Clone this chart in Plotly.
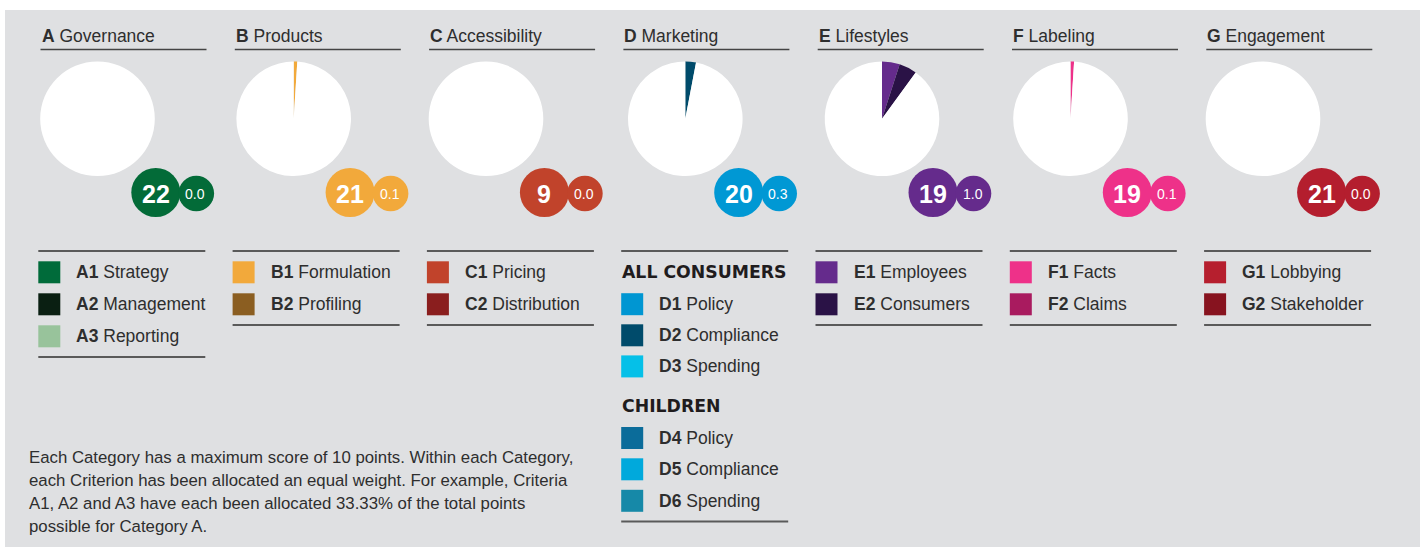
import plotly.graph_objects as go

# ---- data -------------------------------------------------------------
letters = ["A", "B", "C", "D", "E", "F", "G"]
category_names = ["Governance", "Products", "Accessibility", "Marketing",
                  "Lifestyles", "Labeling", "Engagement"]
ranks = [22, 21, 9, 20, 19, 19, 21]
max_score = 10.0

criteria_codes = [
    ["A1", "A2", "A3"],
    ["B1", "B2"],
    ["C1", "C2"],
    ["D1", "D2", "D3", "D4", "D5", "D6"],
    ["E1", "E2"],
    ["F1", "F2"],
    ["G1", "G2"],
]
criteria_names = [
    ["Strategy", "Management", "Reporting"],
    ["Formulation", "Profiling"],
    ["Pricing", "Distribution"],
    ["Policy", "Compliance", "Spending", "Policy", "Compliance", "Spending"],
    ["Employees", "Consumers"],
    ["Facts", "Claims"],
    ["Lobbying", "Stakeholder"],
]
criteria_values = [
    [0.0, 0.0, 0.0],
    [0.1, 0.0],
    [0.0, 0.0],
    [0.0, 0.3, 0.0, 0.0, 0.0, 0.0],
    [0.5, 0.5],
    [0.1, 0.0],
    [0.0, 0.0],
]
marketing_groups = ["ALL CONSUMERS", "CHILDREN"]

category_colors = ["#036b38", "#f2a93b", "#c1432b", "#0098d4",
                   "#652b8c", "#ee3189", "#b41e2e"]
criteria_colors = [
    ["#006b3a", "#0a1f12", "#98c39b"],
    ["#f2a93b", "#8b5e21"],
    ["#c1432b", "#8a1e1e"],
    ["#0096d2", "#004b6b", "#05c0e8", "#0b6c9a", "#00a9dc", "#1689a8"],
    ["#652b8c", "#2a1246"],
    ["#ee3189", "#a91b5f"],
    ["#b61f2e", "#87131f"],
]

footnote_lines = [
    "Each Category has a maximum score of 10 points. Within each Category,",
    "each Criterion has been allocated an equal weight. For example, Criteria",
    "A1, A2 and A3 have each been allocated 33.33% of the total points",
    "possible for Category A.",
]

# ---- layout constants (pixels) -------------------------------------------
W, H = 1424, 548
COL = 194.3
FONT = "Liberation Sans, Arial, sans-serif"
HEAD_FONT = "DejaVu Sans, Liberation Sans, sans-serif"
TXT = "#2e2e2e"
BG = "#dfe0e2"
PIE_CX = [97.5, 293.7, 486.0, 685.3, 882.0, 1070.5, 1263.0]

fig = go.Figure()
shapes = []
annotations = []


def ann(x, y, text, size, color=TXT, xanchor="left", yanchor="middle", family=FONT):
    annotations.append(dict(
        x=x, y=y, xref="x", yref="y", text=text, showarrow=False,
        xanchor=xanchor, yanchor=yanchor, borderpad=0,
        font=dict(family=family, size=size, color=color)))


# grey panel
shapes.append(dict(type="rect", xref="x", yref="y", x0=5, x1=1420, y0=10, y1=547,
                   fillcolor=BG, line=dict(width=0), layer="below"))

for i, letter in enumerate(letters):
    tx = 40.5 + i * COL          # title left edge
    lx = 38.3 + i * COL          # legend left edge

    # category title with underline
    ann(tx, 36, f"<b>{letter}</b> {category_names[i]}", 17.5)
    shapes.append(dict(type="line", xref="x", yref="y", x0=tx, x1=tx + 166,
                       y0=49.5, y1=49.5, line=dict(color="#444444", width=1.5)))

    # pie of criterion scores, remainder in white
    vals = criteria_values[i]
    remainder = max(max_score - sum(vals), 0)
    cx, cy, r = PIE_CX[i], 118.8, 57.3
    fig.add_trace(go.Pie(
        values=vals + [remainder],
        labels=criteria_codes[i] + ["rest"],
        marker=dict(colors=criteria_colors[i] + ["#ffffff"], line=dict(width=0)),
        sort=False, direction="clockwise", rotation=0,
        textinfo="none", hoverinfo="skip", showlegend=False,
        domain=dict(x=[(cx - r) / W, (cx + r) / W],
                    y=[1 - (cy + r) / H, 1 - (cy - r) / H]),
    ))

    # rank bubble and score bubble
    bx, by = 155.8 + i * COL, 192.5
    sx, sy = bx + 40.5, 193.5
    col = category_colors[i]
    shapes.append(dict(type="circle", xref="x", yref="y", x0=bx - 24.5, x1=bx + 24.5,
                       y0=by - 24.5, y1=by + 24.5, fillcolor=col, line=dict(width=0)))
    shapes.append(dict(type="circle", xref="x", yref="y", x0=sx - 17.8, x1=sx + 17.8,
                       y0=sy - 17.8, y1=sy + 17.8, fillcolor=col, line=dict(width=0)))
    ann(bx, by + 1, f"<b>{ranks[i]}</b>", 25, "#ffffff", xanchor="center")
    ann(sx - 1, sy + 0.5, f"{sum(vals):.1f}", 14, "#ffffff", xanchor="center")

    # legend block
    shapes.append(dict(type="line", xref="x", yref="y", x0=lx, x1=lx + 167,
                       y0=251, y1=251, line=dict(color="#5a5a5a", width=2)))
    if letter == "D":
        rows = [("h", marketing_groups[0], 272.3)] + \
               [("c", k, y) for k, y in zip(range(3), [304.2, 335.3, 366.4])] + \
               [("h", marketing_groups[1], 405.7)] + \
               [("c", k, y) for k, y in zip(range(3, 6), [438.0, 469.3, 500.8])]
    else:
        rows = [("c", k, 272.3 + 32 * k) for k in range(len(vals))]
    for kind, item, yc in rows:
        if kind == "h":
            ann(lx - 0.5, yc, f"<b>{item}</b>", 17.3, "#1f1c1d", family=HEAD_FONT)
        else:
            shapes.append(dict(type="rect", xref="x", yref="y", x0=lx, x1=lx + 22,
                               y0=yc - 11, y1=yc + 11,
                               fillcolor=criteria_colors[i][item], line=dict(width=0)))
            ann(lx + 37, yc, f"<b>{criteria_codes[i][item]}</b> {criteria_names[i][item]}",
                17.5)
    yb = rows[-1][2] + 20.8
    shapes.append(dict(type="line", xref="x", yref="y", x0=lx, x1=lx + 167,
                       y0=yb, y1=yb, line=dict(color="#5a5a5a", width=2)))

# explanatory note
for k, line in enumerate(footnote_lines):
    ann(28, 457 + 23.3 * k, line, 16.8)

fig.update_layout(
    width=W, height=H, margin=dict(l=0, r=0, t=0, b=0),
    paper_bgcolor="#ffffff", plot_bgcolor="rgba(0,0,0,0)",
    xaxis=dict(range=[0, W], visible=False, fixedrange=True),
    yaxis=dict(range=[H, 0], visible=False, fixedrange=True),
    shapes=shapes, annotations=annotations, showlegend=False,
)

fig.write_html("out.html")
